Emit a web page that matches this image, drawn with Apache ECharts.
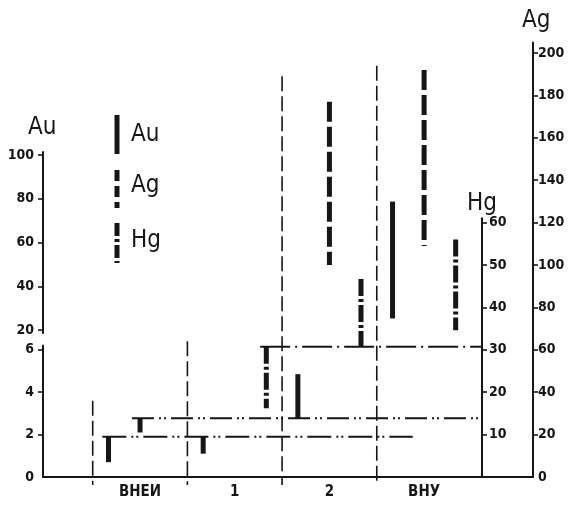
<!DOCTYPE html>
<html><head><meta charset="utf-8">
<script src="https://cdn.jsdelivr.net/npm/echarts@6/dist/echarts.min.js"></script>
<style>html,body{margin:0;padding:0;background:#fff}#c{width:570px;height:506px}</style>
</head><body><div id="c"></div>
<script>
// ---- data ----
const categories = ['ВНЕИ', '1', '2', 'ВНУ'];
const auLow  = [0.7, 1.1, 2.75, 25.3];
const auHigh = [1.9, 1.9, 4.85, 78.7];
const agLow  = [21, null, 100, 109];
const agHigh = [27.7, null, 177, 192];
const hgLow  = [null, 16.2, 30.7, 34.6];
const hgHigh = [null, 30.7, 46.7, 56];
const auBackground = 1.9;
const agBackground = 27.7;
const hgBackground = 30.7;
const auTicksLower = [0, 2, 4, 6];
const auTicksUpper = [20, 40, 60, 80, 100];
const hgTicks = [10, 20, 30, 40, 50, 60];
const agTicks = [0, 20, 40, 60, 80, 100, 120, 140, 160, 180, 200];
const dividerTops = [36, 64, 189, 194]; // Ag units

// ---- style / layout ----
const INK = '#161616';
const FONT = "'DejaVu Sans Condensed','Liberation Sans Narrow','DejaVu Sans',sans-serif";
const TFAMILY = "'Liberation Sans Narrow','DejaVu Sans Condensed',sans-serif";
const BASE = 29, LEFT = 43, RIGHT = 37;
const PX_AG = 2.12;                 // px per Ag unit
const XMIN = -0.025, XMAX = 5.15;
const OFFSETS = {Au: -1/3, Ag: 0, Hg: 1/3};
const AU_LOWER_MAX = 6.2;
const DASH = {Au: null, Ag: [20, 5], Hg: [17, 3, 3, 3]};

const grids = [
  {left: LEFT, right: RIGHT, bottom: BASE, height: AU_LOWER_MAX * 10 * PX_AG},     // Au lower
  {left: LEFT, right: RIGHT, top: 151.9, height: 181.2},                              // Au upper
  {left: LEFT, right: RIGHT, bottom: BASE, height: 61 * 2 * PX_AG},                  // Hg
  {left: LEFT, right: RIGHT, bottom: BASE, height: 205 * PX_AG}                       // Ag
];

function xAx(i, show) {
  return {
    type: 'value', gridIndex: i, min: XMIN, max: XMAX, show: !!show,
    axisLine: {show: true, onZero: false, lineStyle: {color: INK, width: 2}},
    axisTick: {show: false}, splitLine: {show: false},
    axisLabel: {
      customValues: categories.map((c, k) => k + 1),
      formatter: v => categories[Math.round(v) - 1] || '',
      color: INK, fontFamily: FONT, fontWeight: 'bold', fontSize: 15, margin: 8
    }
  };
}
function yAx(i, min, max, pos, offset, ticks, labels, margin) {
  return {
    type: 'value', gridIndex: i, min, max, position: pos, offset,
    axisLine: {show: true, onZero: false, lineStyle: {color: INK, width: 2}},
    axisTick: {show: true, customValues: ticks, length: 5, lineStyle: {color: INK, width: 1.6}},
    axisLabel: {customValues: labels, color: INK, fontFamily: FONT, fontWeight: 'bold', fontSize: 14, margin},
    splitLine: {show: false}
  };
}

function barRender(dash) {
  return function (params, api) {
    const top = api.coord([api.value(0), api.value(2)]);
    const bot = api.coord([api.value(0), api.value(1)]);
    return {type: 'line', shape: {x1: top[0], y1: top[1], x2: bot[0], y2: bot[1]},
      style: {stroke: INK, lineWidth: 5, lineDash: dash, lineCap: 'butt', fill: null}};
  };
}
function rangeSeries(name, grid, lows, highs, keep) {
  const data = [];
  lows.forEach((lo, k) => {
    if (lo == null || !keep(highs[k])) return;
    data.push([k + 1 + OFFSETS[name], lo, highs[k]]);
  });
  return {type: 'custom', name, xAxisIndex: grid, yAxisIndex: grid, clip: false, z: 5,
    encode: {x: 0, y: [1, 2]}, data, renderItem: barRender(DASH[name])};
}
function refLine(grid, level, from, toAxis, to, dash) {
  return {type: 'custom', xAxisIndex: grid, yAxisIndex: grid, clip: false, z: 3,
    encode: {x: [0, 1], y: 2}, data: [[from, to, level]],
    renderItem: function (params, api) {
      const a = api.coord([api.value(0), api.value(2)]);
      let xe = api.coord([api.value(1), api.value(2)])[0];
      if (toAxis) xe = params.coordSys.x + params.coordSys.width - 51;
      return {type: 'line', shape: {x1: a[0], y1: a[1], x2: xe, y2: a[1]},
        style: {stroke: INK, lineWidth: 2, lineDash: dash, fill: null}};
    }};
}

const series = [
  rangeSeries('Au', 0, auLow, auHigh, h => h <= AU_LOWER_MAX),
  rangeSeries('Au', 1, auLow, auHigh, h => h > AU_LOWER_MAX),
  rangeSeries('Ag', 3, agLow, agHigh, () => true),
  rangeSeries('Hg', 2, hgLow, hgHigh, () => true),
  refLine(0, auBackground, 1 + OFFSETS.Au - 0.065, false, 3.88, [24, 5, 2, 3, 2, 5]),
  refLine(3, agBackground, 1 + OFFSETS.Ag - 0.085, true, 4.6, [22, 5, 2, 3, 2, 5]),
  refLine(2, hgBackground, 2 + OFFSETS.Hg - 0.065, true, 4.6, [30, 5, 2, 5]),
  {type: 'custom', xAxisIndex: 3, yAxisIndex: 3, clip: false, z: 2,
    encode: {x: 0, y: 1},
    data: dividerTops.map((t, k) => [k + 0.5, t]),
    renderItem: function (params, api) {
      const a = api.coord([api.value(0), api.value(1)]);
      const b = api.coord([api.value(0), 0]);
      return {type: 'line', shape: {x1: a[0], y1: a[1], x2: b[0], y2: b[1] + 8},
        style: {stroke: INK, lineWidth: 1.6, lineDash: [15, 5], fill: null}};
    }}
];

const TFONT = "normal 24px " + TFAMILY;
const graphic = [
  {type: 'text', left: 28, top: 116, style: {text: 'Au', font: TFONT, fill: INK}},
  {type: 'text', left: 522, top: 9, style: {text: 'Ag', font: TFONT, fill: INK}},
  {type: 'text', left: 467, top: 192, style: {text: 'Hg', font: TFONT, fill: INK}},
  {type: 'line', shape: {x1: 117, y1: 115, x2: 117, y2: 154}, style: {stroke: INK, lineWidth: 5}},
  {type: 'line', shape: {x1: 117, y1: 170, x2: 117, y2: 208}, style: {stroke: INK, lineWidth: 5, lineDash: [11, 5]}},
  {type: 'line', shape: {x1: 117, y1: 223, x2: 117, y2: 263}, style: {stroke: INK, lineWidth: 5, lineDash: [13, 3, 3, 3]}},
  {type: 'text', left: 131, top: 123, style: {text: 'Au', font: TFONT, fill: INK}},
  {type: 'text', left: 131, top: 174, style: {text: 'Ag', font: TFONT, fill: INK}},
  {type: 'text', left: 131, top: 229, style: {text: 'Hg', font: TFONT, fill: INK}}
];

const chart = echarts.init(document.getElementById('c'), null, {renderer: 'canvas'});
chart.setOption({
  animation: false,
  backgroundColor: '#fff',
  grid: grids,
  xAxis: [xAx(0), xAx(1), xAx(2), xAx(3, true)],
  yAxis: [
    yAx(0, 0, AU_LOWER_MAX, 'left', 0, [2, 4, 6], auTicksLower, 9),
    yAx(1, 18.6, 101.4, 'left', 0, auTicksUpper, auTicksUpper, 9),
    yAx(2, 0, 61, 'right', -51, hgTicks, hgTicks, 7),
    yAx(3, 0, 205, 'right', 0, agTicks.slice(1), agTicks, 5)
  ],
  graphic,
  series
});
</script></body></html>
